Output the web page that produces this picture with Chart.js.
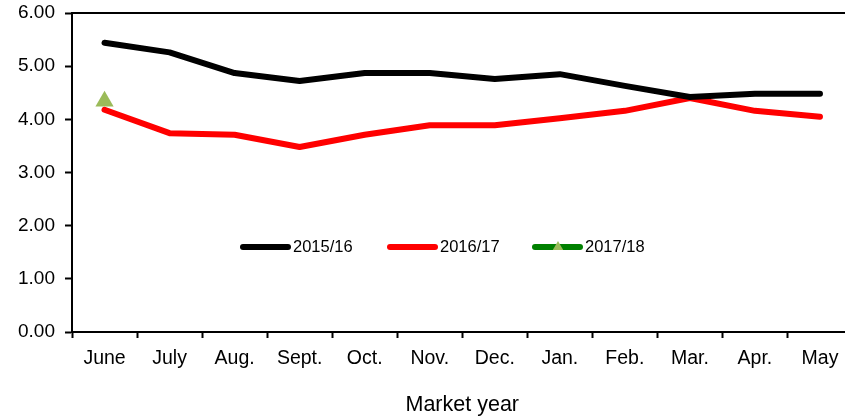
<!DOCTYPE html>
<html>
<head>
<meta charset="utf-8">
<script src="https://cdn.jsdelivr.net/npm/chart.js@4"></script>
<style>
html,body{margin:0;padding:0;background:#fff;overflow:hidden;}
#wrap{width:845px;height:418px;overflow:hidden;position:relative;}
canvas{display:block;}
</style>
</head>
<body>
<div id="wrap"><canvas id="c" width="863" height="418" style="width:863px;height:418px"></canvas></div>
<script>
const categories = ["June","July","Aug.","Sept.","Oct.","Nov.","Dec.","Jan.","Feb.","Mar.","Apr.","May"];
const seriesNames = ["2015/16","2016/17","2017/18"];
const values2015 = [5.44,5.26,4.87,4.72,4.87,4.87,4.76,4.85,4.63,4.42,4.48,4.48];
const values2016 = [4.18,3.74,3.71,3.48,3.71,3.89,3.89,4.02,4.16,4.40,4.16,4.05];
const values2017 = [4.34,null,null,null,null,null,null,null,null,null,null,null];
const yTicks = [0,1,2,3,4,5,6];

const FONT = "'Liberation Sans', Arial, sans-serif";

const boxPlugin = {
  id: 'box',
  beforeDatasetsDraw(chart) {
    const a = chart.chartArea, ctx = chart.ctx;
    ctx.save();
    ctx.strokeStyle = '#000';
    ctx.lineWidth = 2;
    ctx.beginPath();
    ctx.moveTo(a.left, a.top);
    ctx.lineTo(a.right, a.top);
    ctx.lineTo(a.right, a.bottom);
    ctx.stroke();
    ctx.restore();
  }
};

const legendPlugin = {
  id: 'inLegend',
  afterDatasetsDraw(chart) {
    const ctx = chart.ctx;
    const y = chart.scales.y.getPixelForValue(1.6);
    const starts = [240, 387, 532];
    ctx.save();
    ctx.font = "16.5px " + FONT;
    ctx.textBaseline = 'middle';
    chart.data.datasets.forEach((ds, i) => {
      const x0 = starts[i];
      ctx.strokeStyle = ds.legendLineColor || ds.borderColor;
      ctx.lineWidth = 6;
      ctx.lineCap = 'round';
      ctx.beginPath();
      ctx.moveTo(x0 + 3, y);
      ctx.lineTo(x0 + 48, y);
      ctx.stroke();
      if (ds.pointRadius > 0) {
        const xc = x0 + 26, r = 6;
        ctx.fillStyle = ds.pointBackgroundColor;
        ctx.beginPath();
        ctx.moveTo(xc, y - r);
        ctx.lineTo(xc + r * 0.866, y + r / 2);
        ctx.lineTo(xc - r * 0.866, y + r / 2);
        ctx.closePath();
        ctx.fill();
      }
      ctx.fillStyle = '#000';
      ctx.fillText(ds.label, x0 + 53, y + 1);
    });
    ctx.restore();
  }
};

new Chart(document.getElementById('c'), {
  type: 'line',
  data: {
    labels: categories,
    datasets: [
      {label: seriesNames[0], data: values2015, borderColor: '#000000', backgroundColor: '#000000', borderWidth: 6, pointRadius: 0, tension: 0, borderCapStyle: 'round', borderJoinStyle: 'round'},
      {label: seriesNames[1], data: values2016, borderColor: '#ff0000', backgroundColor: '#ff0000', borderWidth: 6, pointRadius: 0, tension: 0, borderCapStyle: 'round', borderJoinStyle: 'round'},
      {label: seriesNames[2], data: values2017, borderColor: '#008000', legendLineColor: '#008000', backgroundColor: '#9bbb59', borderWidth: 6, pointRadius: 10.5, pointStyle: 'triangle', pointBackgroundColor: '#9bbb59', pointBorderColor: '#9bbb59', pointBorderWidth: 0, tension: 0}
    ]
  },
  options: {
    responsive: false,
    animation: false,
    devicePixelRatio: 1,
    layout: {padding: {top: 13, left: 0, right: 0, bottom: 0}},
    plugins: {legend: {display: false}, tooltip: {enabled: false}},
    scales: {
      x: {
        offset: true,
        grid: {display: true, drawOnChartArea: false, drawTicks: true, tickLength: 6, tickColor: '#000', tickWidth: 2, offset: true},
        border: {display: true, color: '#000', width: 2},
        ticks: {color: '#000', font: {family: FONT, size: 19.5}, padding: 9, maxRotation: 0, autoSkip: false},
        title: {display: true, text: 'Market year', color: '#000', font: {family: FONT, size: 21.5}, padding: {top: 0, bottom: 0}},
        afterFit(s) { s.height = 86; s.paddingLeft = 0; s.paddingRight = 0; s.paddingTop = 0; s.paddingBottom = 0; }
      },
      y: {
        min: 0, max: 6,
        afterBuildTicks(s) { s.ticks = yTicks.map(v => ({value: v})); },
        grid: {display: true, drawOnChartArea: false, drawTicks: true, tickLength: 7, tickColor: '#000', tickWidth: 2},
        border: {display: true, color: '#000', width: 2},
        ticks: {color: '#000', font: {family: FONT, size: 19}, padding: 10, callback: v => Number(v).toFixed(2)},
        afterFit(s) { s.width = 72; s.paddingTop = 0; s.paddingBottom = 0; s.paddingLeft = 0; s.paddingRight = 0; }
      }
    }
  },
  plugins: [boxPlugin, legendPlugin]
});
</script>
</body>
</html>
